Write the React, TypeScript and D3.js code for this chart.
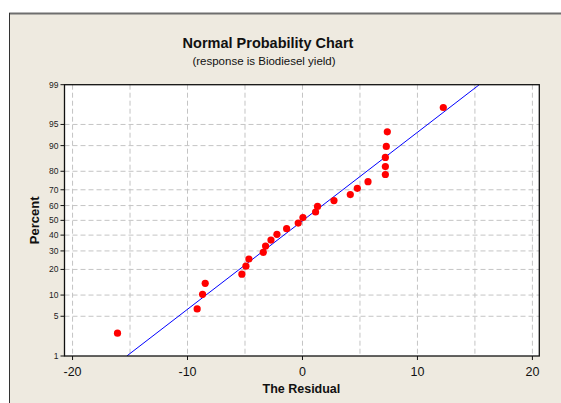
import * as d3 from 'd3'

const residuals = [
  -16.09, -9.16, -8.69, -8.46, -5.27, -4.92, -4.66, -3.41, -3.21, -2.74, -2.22, -1.38, -0.37,
  0.04, 1.14, 1.31, 2.74, 4.16, 4.77, 5.7, 7.21, 7.21, 7.21, 7.29, 7.38, 12.25,
]
const percents = [
  2.65, 6.44, 10.23, 14.02, 17.8, 21.59, 25.38, 29.17, 32.95, 36.74, 40.53, 44.32, 48.11,
  51.89, 55.68, 59.47, 63.26, 67.05, 70.83, 74.62, 78.41, 82.2, 85.98, 89.77, 93.56, 97.35,
]
// fitted normal line (mean, std dev)
const fitMean = 0.05
const fitSd = 6.59

const yTicks = [1, 5, 10, 20, 30, 40, 50, 60, 70, 80, 90, 95, 99]
const yGrid = [5, 10, 20, 30, 40, 50, 60, 70, 80, 90, 95]
const xTicks = [-20, -10, 0, 10, 20]
const xGrid = [-20, -15, -10, -5, 0, 5, 10, 15, 20]

const W = 561
const H = 403
const PLOT = { left: 64.5, right: 539.3, top: 84.7, bottom: 356 }
const FONT = "'Liberation Sans', Arial, sans-serif"

// inverse standard normal CDF (Acklam)
function probit(p: number): number {
  const a = [-39.69683028665376, 220.9460984245205, -275.9285104469687, 138.357751867269, -30.66479806614716, 2.506628277459239]
  const b = [-54.47609879822406, 161.5858368580409, -155.6989798598866, 66.80131188771972, -13.28068155288572]
  const c = [-0.007784894002430293, -0.3223964580411365, -2.400758277161838, -2.549732539343734, 4.374664141464968, 2.938163982698783]
  const d = [0.007784695709041462, 0.3224671290700398, 2.445134137142996, 3.754408661907416]
  const pl = 0.02425
  if (p < pl) {
    const q = Math.sqrt(-2 * Math.log(p))
    return (((((c[0] * q + c[1]) * q + c[2]) * q + c[3]) * q + c[4]) * q + c[5]) /
      ((((d[0] * q + d[1]) * q + d[2]) * q + d[3]) * q + 1)
  }
  if (p > 1 - pl) return -probit(1 - p)
  const q = p - 0.5
  const r = q * q
  return (((((a[0] * r + a[1]) * r + a[2]) * r + a[3]) * r + a[4]) * r + a[5]) * q /
    (((((b[0] * r + b[1]) * r + b[2]) * r + b[3]) * r + b[4]) * r + 1)
}

export default function App() {
  const x = d3.scaleLinear([-20.7, 20.6], [PLOT.left, PLOT.right])
  const z = d3.scaleLinear([probit(0.01), probit(0.99)], [PLOT.bottom, PLOT.top])
  const y = (pct: number) => z(probit(pct / 100))

  const zLine = [probit(0.01), probit(0.99)]
  const line = d3.line<number>()
    .x(q => x(fitMean + fitSd * q))
    .y(q => z(q))

  const points = residuals.map((r, i) => ({ r, p: percents[i] }))
  const midX = (PLOT.left + PLOT.right) / 2

  return (
    <svg width={W} height={H} style={{ position: 'absolute', left: 0, top: 0, background: '#fff' }}>
      <defs>
        <clipPath id="plotClip">
          <rect x={PLOT.left} y={PLOT.top} width={PLOT.right - PLOT.left} height={PLOT.bottom - PLOT.top} />
        </clipPath>
      </defs>
      {/* outer panel */}
      <rect x={9} y={13} width={W - 9} height={H - 13} fill="#EEEAE0" />
      <line x1={9} x2={W} y1={13.5} y2={13.5} stroke="#6e6e6e" strokeWidth={2} />
      <line x1={9.5} x2={9.5} y1={13} y2={H} stroke="#333" strokeWidth={1} />

      {/* titles */}
      <text x={268} y={48} textAnchor="middle" fontFamily={FONT} fontWeight="bold" fontSize={14.5} fill="#111">
        Normal Probability Chart
      </text>
      <text x={264} y={65} textAnchor="middle" fontFamily={FONT} fontSize={11.5} fill="#111">
        (response is Biodiesel yield)
      </text>

      {/* plot area */}
      <rect x={PLOT.left} y={PLOT.top} width={PLOT.right - PLOT.left} height={PLOT.bottom - PLOT.top} fill="#fff" />

      {/* grid */}
      <g stroke="#c4c4c4" strokeWidth={1} strokeDasharray="5,3">
        {xGrid.map(v => (
          <line key={'gx' + v} x1={x(v)} x2={x(v)} y1={PLOT.top} y2={PLOT.bottom} />
        ))}
        {yGrid.map(v => (
          <line key={'gy' + v} x1={PLOT.left} x2={PLOT.right} y1={y(v)} y2={y(v)} />
        ))}
      </g>

      {/* fitted line */}
      <path d={line(zLine) ?? ''} fill="none" stroke="#0000ff" strokeWidth={1} clipPath="url(#plotClip)" />

      {/* points */}
      <g fill="#ff0000">
        {points.map((d, i) => (
          <circle key={i} cx={x(d.r)} cy={y(d.p)} r={3.6} />
        ))}
      </g>

      {/* frame */}
      <rect x={PLOT.left} y={PLOT.top} width={PLOT.right - PLOT.left} height={PLOT.bottom - PLOT.top}
        fill="none" stroke="#111" strokeWidth={1.3} />

      {/* y axis ticks */}
      {yTicks.map(v => (
        <g key={'yt' + v}>
          <line x1={PLOT.left - 4} x2={PLOT.left} y1={y(v)} y2={y(v)} stroke="#111" />
          <text x={PLOT.left - 6} y={y(v)} dy="0.35em" textAnchor="end" fontFamily={FONT} fontSize={8.5} fill="#222">
            {v}
          </text>
        </g>
      ))}

      {/* x axis ticks */}
      {xTicks.map(v => (
        <g key={'xt' + v}>
          <line x1={x(v)} x2={x(v)} y1={PLOT.bottom} y2={PLOT.bottom + 4} stroke="#111" />
          <text x={x(v)} y={375.5} textAnchor="middle" fontFamily={FONT} fontSize={12.5} fill="#111">
            {v}
          </text>
        </g>
      ))}

      {/* axis labels */}
      <text x={midX - 0.5} y={392.5} textAnchor="middle" fontFamily={FONT} fontWeight="bold" fontSize={12.5} fill="#111">
        The Residual
      </text>
      <text transform={`translate(38.5,${z(0)}) rotate(-90)`} textAnchor="middle" fontFamily={FONT} fontWeight="bold" fontSize={13} fill="#111">
        Percent
      </text>
    </svg>
  )
}
